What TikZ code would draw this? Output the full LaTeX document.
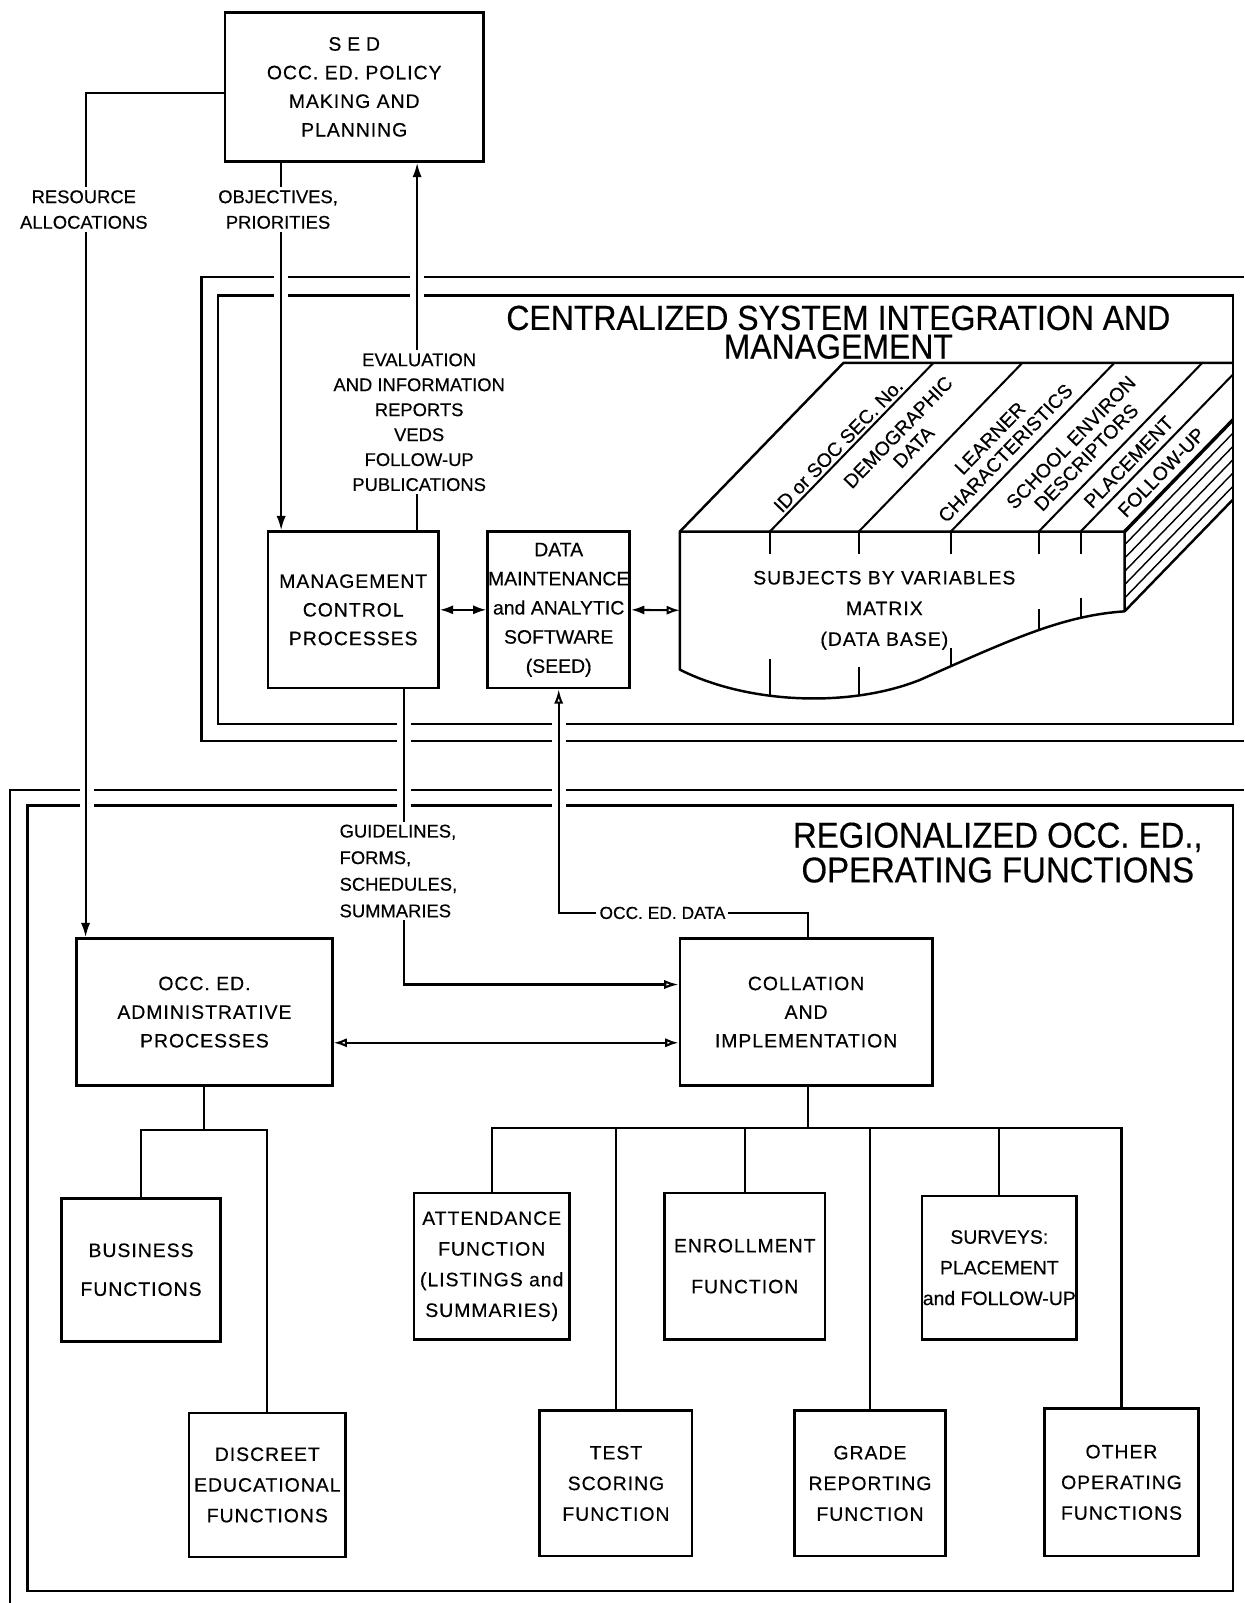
\documentclass[tikz,border=0pt]{standalone}
\usepackage{fontspec}
\setmainfont{Liberation Sans}[FakeBold=0.4]
\newfontfamily\boxfont[LetterSpace=5,FakeBold=0.4]{Liberation Sans}
\newfontfamily\titlefont[FakeStretch=0.92,FakeBold=0.4]{Liberation Sans}
\usetikzlibrary{arrows.meta,calc}
\begin{document}
\begin{tikzpicture}[x=1pt,y=-1pt,
  box/.style={draw,line width=2.6pt,align=center,inner sep=0pt,
    font=\boxfont\fontsize{19}{28}\selectfont},
  lowbox/.style={box,font=\boxfont\fontsize{19}{30}\selectfont},
  conn/.style={line width=2pt},
  frame/.style={line width=2.4pt},
  tipf/.style={-{Latex[length=14pt,width=9pt]}},
  lab/.style={font=\fontsize{18}{25}\selectfont,align=center,fill=white,inner sep=3pt},
  ttl/.style={font=\titlefont\fontsize{34}{28}\selectfont,align=center},
  dblab/.style={font=\fontsize{19}{21}\selectfont,align=center,rotate=46,inner sep=0pt},
  gap/.style={fill=white}
]
\fill[white] (0,0) rectangle (1217,1568);
\useasboundingbox (0,0) rectangle (1217,1568);

% ---------- boxes ----------
\node[box,minimum width=253pt,minimum height=146pt] (sed) at (346.5,85)
  {{\addfontfeature{LetterSpace=30}SED}\\OCC. ED. POLICY\\MAKING AND\\PLANNING};
\node[box,minimum width=167pt,minimum height=153pt] (mcp) at (345.5,596.5)
  {MANAGEMENT\\CONTROL\\PROCESSES};
\node[box,minimum width=139pt,minimum height=153pt,font=\fontsize{19}{28.5}\selectfont] (dms) at (546.5,596.5)
  {DATA\\MAINTENANCE\\and ANALYTIC\\SOFTWARE\\(SEED)};
\node[box,minimum width=250pt,minimum height=144pt] (admin) at (200,990)
  {OCC. ED.\\ADMINISTRATIVE\\PROCESSES};
\node[box,minimum width=247pt,minimum height=144pt] (coll) at (788.5,990)
  {COLLATION\\AND\\IMPLEMENTATION};
\node[lowbox,minimum width=156pt,minimum height=140pt] (bus) at (138,1242)
  {BUSINESS\\[8pt]FUNCTIONS};
\node[lowbox,minimum width=153pt,minimum height=141pt] (disc) at (261.5,1452.5)
  {DISCREET\\EDUCATIONAL\\FUNCTIONS};
\node[lowbox,minimum width=152pt,minimum height=143pt] (att) at (481,1238.5)
  {ATTENDANCE\\FUNCTION\\(LISTINGS and\\SUMMARIES)};
\node[lowbox,minimum width=157pt,minimum height=143pt] (enr) at (728.5,1238.5)
  {ENROLLMENT\\[10pt]FUNCTION};
\node[lowbox,minimum width=151pt,minimum height=140pt,font=\fontsize{19}{30}\selectfont] (sur) at (977.5,1240)
  {SURVEYS:\\PLACEMENT\\and FOLLOW-UP};
\node[lowbox,minimum width=149pt,minimum height=142pt] (test) at (602.5,1451)
  {TEST\\SCORING\\FUNCTION};
\node[lowbox,minimum width=148pt,minimum height=142pt] (grade) at (851,1451)
  {GRADE\\REPORTING\\FUNCTION};
\node[lowbox,minimum width=150pt,minimum height=144pt] (other) at (1097,1450)
  {OTHER\\OPERATING\\FUNCTIONS};

% ---------- frames ----------
\draw[frame] (1217,271) -| (197,725) -- (1217,725);
\draw[frame] (213,289) rectangle (1206,708);
\draw[frame] (1217,773) -| (10,1568);
\draw[frame] (27,788) rectangle (1206,1556);
% gaps where connectors pass through frames
\foreach \gx/\gy in {275/271,275/289,408/271,408/289,
    395/708,395/725,395/773,395/788,547/708,547/725,547/773,547/788,85/773,85/788}
  \fill[gap] (\gx-7,\gy-3) rectangle (\gx+7,\gy+3);

\node[ttl] (ctitle) at (820,325) {CENTRALIZED SYSTEM INTEGRATION AND\\MANAGEMENT};
\node[ttl,font=\titlefont\fontsize{35}{34}\selectfont] (rtitle) at (976,834)
  {REGIONALIZED OCC. ED.,\\OPERATING FUNCTIONS};

% ---------- data base block ----------
\coordinate (dbl) at (665,597);
\def\frontface{(665,655) -- (665,520) -- (1100,520) -- (1100,598)
  .. controls (1040,602) and (990,625) .. (900,665)
  .. controls (830,693) and (730,688) .. (665,655) -- cycle}
\draw[frame,line join=round] \frontface;
\begin{scope}
  \clip \frontface;
  \foreach \tx/\ty in {753/645,840/652,930/634,1016/596,1057/585}
    \draw[conn] (\tx,\ty) -- (\tx,720);
\end{scope}
\foreach \tx in {753,840,930,1016,1057}
  \draw[conn] (\tx,520) -- (\tx,542);
\begin{scope}
  \clip (600,340) rectangle (1206,720);
  \draw[frame] (665,520) -- (825,355) -- (1230,355);
  \foreach \tx in {753,840,930,1016,1057}
    \draw[conn] (\tx,520) -- ++(160,-165);
  \draw[line width=3.4pt] (1100,520) -- ++(160,-165);
  \draw[frame] (1100,598) -- ++(160,-165);
  \foreach \hy in {533,546,559,572,585}
    \draw[line width=1.4pt] (1100,\hy) -- ++(160,-165);
\end{scope}
\node[dblab] (lid) at (820,436) {ID or SOC SEC. No.};
\node[dblab] (ldem) at (886,430) {DEMOGRAPHIC\\DATA};
\node[dblab] (llea) at (976,436) {LEARNER\\CHARACTERISTICS};
\node[dblab] (lsch) at (1055,440) {SCHOOL ENVIRON\\DESCRIPTORS};
\node[dblab] (lpla) at (1104,452) {PLACEMENT};
\node[dblab] (lfol) at (1136,462) {FOLLOW-UP};
\node[font=\boxfont\fontsize{19}{30}\selectfont,align=center] (dbtxt) at (865,597)
  {SUBJECTS BY VARIABLES\\MATRIX\\(DATA BASE)};

% ---------- connectors ----------
\draw[conn,tipf] ([yshift=-6pt]sed.west) -| ([xshift=10pt]admin.north west);
\draw[conn,tipf] ([xshift=-71.5pt]sed.south) -- ([xshift=-70.5pt]mcp.north);
\draw[conn,tipf] ([xshift=62.5pt]mcp.north) -- ([xshift=61.5pt]sed.south);
\draw[conn,{Latex[length=13pt,width=9pt]}-{Latex[length=13pt,width=9pt]}] (mcp.east) -- (dms.west);
\draw[conn,{Latex[length=13pt,width=9pt]}-{Latex[open,length=13pt,width=9pt]}] (dms.east) -- (dbl);
\coordinate (dcorner) at (668,893);
\draw[conn,-{Latex[open,length=14pt,width=9pt]}] ([xshift=1.5pt]coll.north) |- (dcorner) -| (dms.south);
\draw[conn,-{Latex[open,length=14pt,width=9pt]}] ([xshift=50pt]mcp.south) |- ([yshift=27pt]coll.west);
\draw[conn,{Latex[open,length=13pt,width=9pt]}-{Latex[open,length=13pt,width=9pt]}]
  ([yshift=-30pt]admin.east) -- ([yshift=-30pt]coll.west);

\coordinate (abar) at (200,1105);
\draw[conn] (admin.south) -- (abar);
\draw[conn] (bus.north) |- (abar) -| (disc.north);
\coordinate (cbar) at (790,1103);
\draw[conn] ([xshift=1.5pt]coll.south) -- (cbar);
\draw[conn] (att.north) |- (cbar) -| (other.north);
\foreach \n in {test,enr,grade,sur}
  \draw[conn] (\n.north) -- (\n.north |- cbar);

% ---------- connector labels ----------
\node[lab] (lres) at (82,205) {RESOURCE\\ALLOCATIONS};
\node[lab] (lobj) at (272,205) {OBJECTIVES,\\PRIORITIES};
\node[lab,font=\fontsize{18}{24.4}\selectfont] (leva) at (410,413)
  {EVALUATION\\AND INFORMATION\\REPORTS\\VEDS\\FOLLOW-UP\\PUBLICATIONS};
\node[lab,anchor=west,align=left,font=\fontsize{18}{26}\selectfont] (lgui) at (329,852)
  {GUIDELINES,\\FORMS,\\SCHEDULES,\\SUMMARIES};
\node[lab,font=\fontsize{17}{20}\selectfont] (ldat) at (648,893) {OCC. ED. DATA};
\end{tikzpicture}
\end{document}
